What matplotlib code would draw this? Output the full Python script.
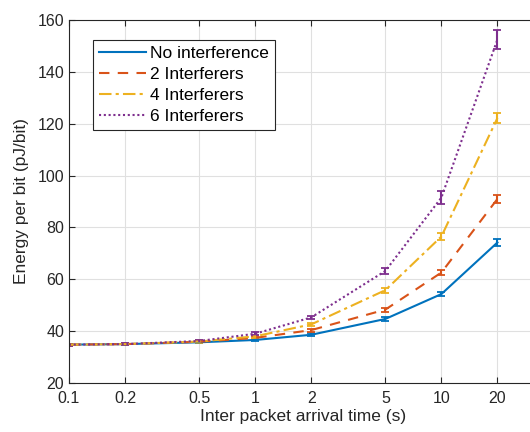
import matplotlib
matplotlib.use("Agg")
import matplotlib.pyplot as plt
from matplotlib.lines import Line2D
from matplotlib.ticker import FixedLocator, NullLocator

plt.rcParams["font.family"] = ["Liberation Sans", "DejaVu Sans"]

arrival_time = [0.1, 0.2, 0.5, 1, 2, 5, 10, 20]
x_ticklabels = ["0.1", "0.2", "0.5", "1", "2", "5", "10", "20"]

no_interf = [34.8, 35.0, 35.7, 36.6, 38.6, 44.7, 54.3, 74.2]
no_interf_err = [0.4, 0.4, 0.4, 0.5, 0.5, 0.6, 0.8, 1.5]
interf_2 = [34.8, 35.0, 35.9, 37.4, 40.4, 48.3, 62.6, 91.0]
interf_2_err = [0.4, 0.4, 0.4, 0.5, 0.6, 0.8, 1.0, 1.6]
interf_4 = [34.8, 35.0, 36.0, 38.0, 42.6, 55.8, 76.5, 122.2]
interf_4_err = [0.4, 0.4, 0.4, 0.5, 0.6, 1.0, 1.2, 1.8]
interf_6 = [34.8, 35.0, 36.2, 39.0, 45.3, 63.2, 91.5, 152.5]
interf_6_err = [0.4, 0.4, 0.5, 0.6, 0.7, 1.0, 2.4, 3.6]

series = [
    ("No interference", no_interf, no_interf_err, (0, 0.447, 0.741), "-"),
    ("2 Interferers", interf_2, interf_2_err, (0.85, 0.325, 0.098), (0, (5, 4))),
    ("4 Interferers", interf_4, interf_4_err, (0.929, 0.694, 0.125), (0, (6, 2, 1.5, 2))),
    ("6 Interferers", interf_6, interf_6_err, (0.494, 0.184, 0.556), (0, (1, 1.3))),
]

fig = plt.figure(figsize=(5.3, 4.32), dpi=100)
ax = fig.add_axes([0.130, 0.1134, 0.885, 0.8403])

handles = []
for label, vals, errs, color, ls in series:
    ax.errorbar(
        arrival_time,
        vals,
        yerr=errs,
        color=color,
        linestyle=ls,
        linewidth=1.5,
        elinewidth=1.5,
        capsize=3,
        capthick=1.3,
    )
    handles.append(Line2D([], [], color=color, linestyle=ls, linewidth=1.5, label=label))

ax.set_xscale("log")
ax.set_xlim(0.1, 33)
ax.set_ylim(20, 160)
ax.xaxis.set_major_locator(FixedLocator(arrival_time))
ax.xaxis.set_minor_locator(NullLocator())
ax.set_xticklabels(x_ticklabels)
ax.set_yticks(range(20, 161, 20))

axis_color = (0.15, 0.15, 0.15)
for s in ax.spines.values():
    s.set_color(axis_color)
    s.set_linewidth(0.8)
ax.tick_params(
    which="major", direction="in", length=4, width=0.8,
    top=True, right=True, colors=axis_color, labelsize=11.5,
)
ax.tick_params(axis="x", pad=6)
ax.grid(True, color=(0.88, 0.88, 0.88), linewidth=0.8)
ax.set_axisbelow(True)

ax.set_xlabel("Inter packet arrival time (s)", fontsize=12.5, color=axis_color, labelpad=2)
ax.set_ylabel("Energy per bit (pJ/bit)", fontsize=12.5, color=axis_color, labelpad=6)

leg = ax.legend(
    handles=handles,
    loc="upper left",
    bbox_to_anchor=(0.052, 0.945),
    fontsize=12.5,
    frameon=True,
    fancybox=False,
    edgecolor=axis_color,
    framealpha=1,
    borderpad=0.35,
    labelspacing=0.33,
    handlelength=2.7,
    handletextpad=0.2,
    borderaxespad=0,
)
leg.get_frame().set_linewidth(0.8)

fig.savefig("out.png", dpi=100)
